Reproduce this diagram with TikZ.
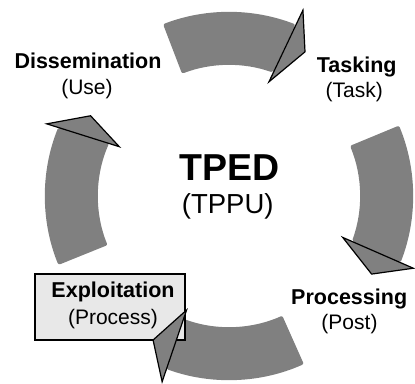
\documentclass[tikz,border=0pt]{standalone}
\usepackage{fontspec}
\setmainfont{Liberation Sans}
\usetikzlibrary{positioning}
\definecolor{bandgray}{RGB}{128,128,128}
\definecolor{boxgray}{RGB}{232,232,232}

\begin{document}
\begin{tikzpicture}[
  x=1bp,y=1bp,
  band/.style={fill=bandgray,draw=none,rounded corners=2bp},
  head/.style={draw=black,line width=1.2bp,fill=bandgray,line join=miter},
  phase/.style={font=\fontsize{21.5bp}{26bp}\selectfont\bfseries,inner sep=0pt,anchor=base},
  subtitle/.style={font=\fontsize{21bp}{26bp}\selectfont,inner sep=0pt,anchor=base},
  cycle-name/.style={font=\fontsize{37.5bp}{40bp}\selectfont\bfseries,inner sep=0pt,anchor=base},
  cycle-alt/.style={font=\fontsize{27.5bp}{30bp}\selectfont,inner sep=0pt,anchor=base},
  current-phase/.style={draw=black,line width=1.2bp,fill=boxgray,minimum width=150bp,minimum height=66bp,inner sep=0pt}]

  \useasboundingbox (-229,-188) rectangle (186,196);

  % ring pieces
  \fill[band] (111:184) arc (111:68.8:184bp) -- (70.4:131) arc (70.4:111:131bp) -- cycle;
  \fill[band] (22.5:184) arc (22.5:-21.15:184bp) -- (-20.2:131) arc (-20.2:22.5:131bp) -- cycle;
  \fill[band] (-66:184) arc (-66:-109.9:184bp) -- (-110.3:131) arc (-110.3:-66:131bp) -- cycle;
  \fill[band] (202:184) arc (202:158:184bp) -- (156.2:131) arc (156.2:202:131bp) -- cycle;

  \node[current-phase] (exploit-box) at (-119,-111) {};

  \node[cycle-name] (tped) at (1,16) {TPED};
  \node[cycle-alt] (tppu) at ([xshift=-2.3bp,yshift=-33.3bp]tped.base) {(TPPU)};

  \node[phase] (dissemination) at (-141,127.7) {Dissemination};
  \node[subtitle] (use) at ([xshift=-1bp,yshift=-26bp]dissemination.base) {(Use)};

  \node[phase] (tasking) at (127.7,123.3) {Tasking};
  \node[subtitle] (task) at ([xshift=-2.5bp,yshift=-24.6bp]tasking.base) {(Task)};

  \node[phase] (processing) at (120.2,-108) {Processing};
  \node[subtitle] (post) at ([xshift=0.3bp,yshift=-25.3bp]processing.base) {(Post)};

  \node[phase] (exploitation) at (-116,-101.7) {Exploitation};
  \node[subtitle] (process) at ([yshift=-26.3bp]exploitation.base) {(Process)};

  % arrow heads
  \filldraw[head] (70.7:121) -- (68.3:200) -- (62.2:163) -- cycle;
  \filldraw[head] (-20:121) -- (-21.4:198) -- (-28.7:162.6) -- cycle;
  \filldraw[head] (-110.4:121.7) -- (-109.8:197.4) -- (-117.8:162.8) -- cycle;
  \filldraw[head] (155.8:120.3) -- (158.4:196) -- (149.9:160) -- cycle;
\end{tikzpicture}
\end{document}
